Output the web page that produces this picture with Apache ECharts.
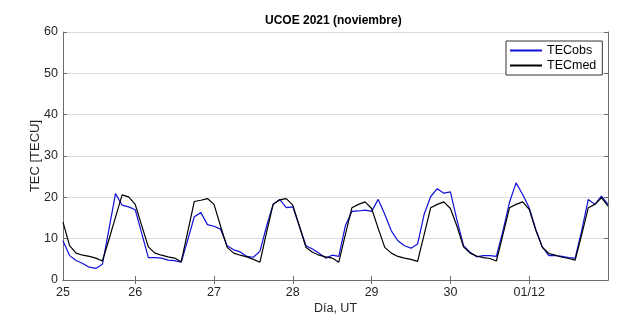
<!DOCTYPE html>
<html>
<head>
<meta charset="utf-8">
<script src="https://cdn.jsdelivr.net/npm/echarts@6/dist/echarts.min.js"></script>
<style>
  html, body { margin: 0; padding: 0; background: #fff; }
  #echarts_container { width: 639px; height: 320px; }
</style>
</head>
<body>
<div id="echarts_container"></div>
<script>
// TEC cada 2 horas, desde el 25 nov 02:00 UT hasta el 2 dic 00:00 UT
let tecObs = [
    9.5, 5.9, 4.7, 4.0, 3.1, 2.8, 3.8, 12.3, 20.9, 18.1, 17.7, 17.0,
    11.2, 5.4, 5.4, 5.3, 4.8, 4.7, 4.3, 9.7, 15.3, 16.3, 13.4, 13.0,
    12.3, 8.3, 7.3, 6.8, 5.7, 5.5, 7.0, 13.0, 18.3, 19.5, 17.5, 17.7,
    13.0, 8.3, 7.5, 6.5, 5.3, 6.0, 5.7, 13.1, 16.6, 16.7, 16.9, 16.6,
    19.5, 15.9, 11.9, 9.5, 8.3, 7.7, 8.7, 15.9, 20.2, 22.1, 21.0, 21.3,
    14.5, 8.3, 6.7, 5.6, 5.9, 5.9, 5.7, 11.9, 18.8, 23.5, 20.7, 17.5,
    12.3, 8.0, 5.9, 5.9, 5.7, 5.4, 5.3, 12.0, 19.5, 18.3, 20.3, 18.3
]
let tecMed = [
    14.0, 8.3, 6.5, 6.0, 5.7, 5.3, 4.6, 9.8, 15.2, 20.6, 20.1, 18.3,
    13.1, 8.0, 6.5, 6.0, 5.6, 5.3, 4.4, 11.7, 19.0, 19.3, 19.7, 18.3,
    13.0, 7.9, 6.5, 6.0, 5.6, 5.0, 4.3, 11.5, 18.3, 19.4, 19.7, 18.1,
    13.0, 7.9, 6.7, 6.0, 5.6, 5.3, 4.3, 11.0, 17.5, 18.3, 18.9, 17.3,
    12.5, 7.9, 6.5, 5.7, 5.3, 5.0, 4.5, 11.0, 17.5, 18.3, 18.9, 17.3,
    13.0, 8.0, 6.5, 5.8, 5.4, 5.2, 4.6, 11.0, 17.5, 18.3, 18.9, 17.1,
    12.0, 7.9, 6.4, 6.0, 5.5, 5.2, 4.8, 11.0, 17.5, 18.3, 19.9, 17.9
]
// horas desde el 25 nov 00:00 UT
let hours = tecObs.map((v, i) => 2 + 2 * i)
let tickHours = [2, 24, 48, 72, 96, 120, 144]
let tickLabels = ['25', '26', '27', '28', '29', '30', '01/12']

var chartDom = document.getElementById('echarts_container');
var myChart = echarts.init(chartDom);
var option;

const font = 'Liberation Sans, Arial, sans-serif'
const axisGray = '#6e6e6e'
const textGray = '#262626'

option = {
    animation: false,
    textStyle: { fontFamily: font },
    title: {
        text: 'UCOE 2021 (noviembre)',
        left: 265,
        top: 15,
        padding: 0,
        textStyle: { fontSize: 12, fontWeight: 'bold', color: '#000', fontFamily: font }
    },
    legend: {
        data: ['TECobs', 'TECmed'],
        orient: 'vertical',
        left: 506,
        top: 41,
        padding: [3, 6, 3, 3],
        itemWidth: 32,
        itemHeight: 12,
        itemGap: 2,
        itemStyle: { opacity: 0 },   // solo la linea, sin circulo
        borderColor: '#333',
        borderWidth: 1,
        backgroundColor: '#fff',
        textStyle: { fontSize: 12.5, color: '#000', fontFamily: font }
    },
    grid: {
        left: 63,
        right: 31,
        top: 32,
        bottom: 39
    },
    xAxis: [{
        type: 'value',
        min: 2,
        max: 168,
        name: 'Día, UT',
        nameLocation: 'middle',
        nameGap: 22,
        nameMoveOverlap: false,
        nameTextStyle: { fontSize: 12.5, color: textGray },
        axisLine: { show: true, lineStyle: { color: axisGray } },
        axisTick: { show: true, inside: true, length: 4, customValues: tickHours.slice(1), lineStyle: { color: axisGray } },
        axisLabel: {
            customValues: tickHours,
            fontSize: 12.5,
            color: textGray,
            margin: 6,
            formatter: v => tickLabels[tickHours.indexOf(v)]
        },
        splitLine: { show: false }
    }, {
        type: 'value',
        position: 'top',
        min: 2,
        max: 168,
        axisLine: { show: true, lineStyle: { color: axisGray } },
        axisTick: { show: true, inside: true, length: 4, customValues: tickHours.slice(1), lineStyle: { color: axisGray } },
        axisLabel: { show: false },
        splitLine: { show: false }
    }],
    yAxis: [{
        type: 'value',
        min: 0,
        max: 60,
        interval: 10,
        name: 'TEC [TECU]',
        nameLocation: 'middle',
        nameGap: 21,
        nameMoveOverlap: false,
        nameTextStyle: { fontSize: 13, color: textGray },
        axisLine: { show: true, lineStyle: { color: axisGray } },
        axisTick: { show: true, inside: true, length: 4, lineStyle: { color: axisGray } },
        axisLabel: { fontSize: 12.5, color: textGray, margin: 5 },
        splitLine: { show: true, lineStyle: { color: '#dcdcdc', width: 1 } }
    }, {
        type: 'value',
        position: 'right',
        min: 0,
        max: 60,
        interval: 10,
        axisLine: { show: true, lineStyle: { color: axisGray } },
        axisTick: { show: true, inside: true, length: 4, lineStyle: { color: axisGray } },
        axisLabel: { show: false },
        splitLine: { show: false }
    }],
    series: [
        {
            name: 'TECobs',
            type: 'line',
            symbol: 'none',
            color: '#1010d8',
            lineStyle: { width: 1.2, color: '#1010d8' },
            data: hours.map((h, i) => [h, tecObs[i]])
        },
        {
            name: 'TECmed',
            type: 'line',
            symbol: 'none',
            color: '#000',
            lineStyle: { width: 1.2, color: '#000' },
            data: hours.map((h, i) => [h, tecMed[i]])
        }
    ]
};

option && myChart.setOption(option);
</script>
</body>
</html>
